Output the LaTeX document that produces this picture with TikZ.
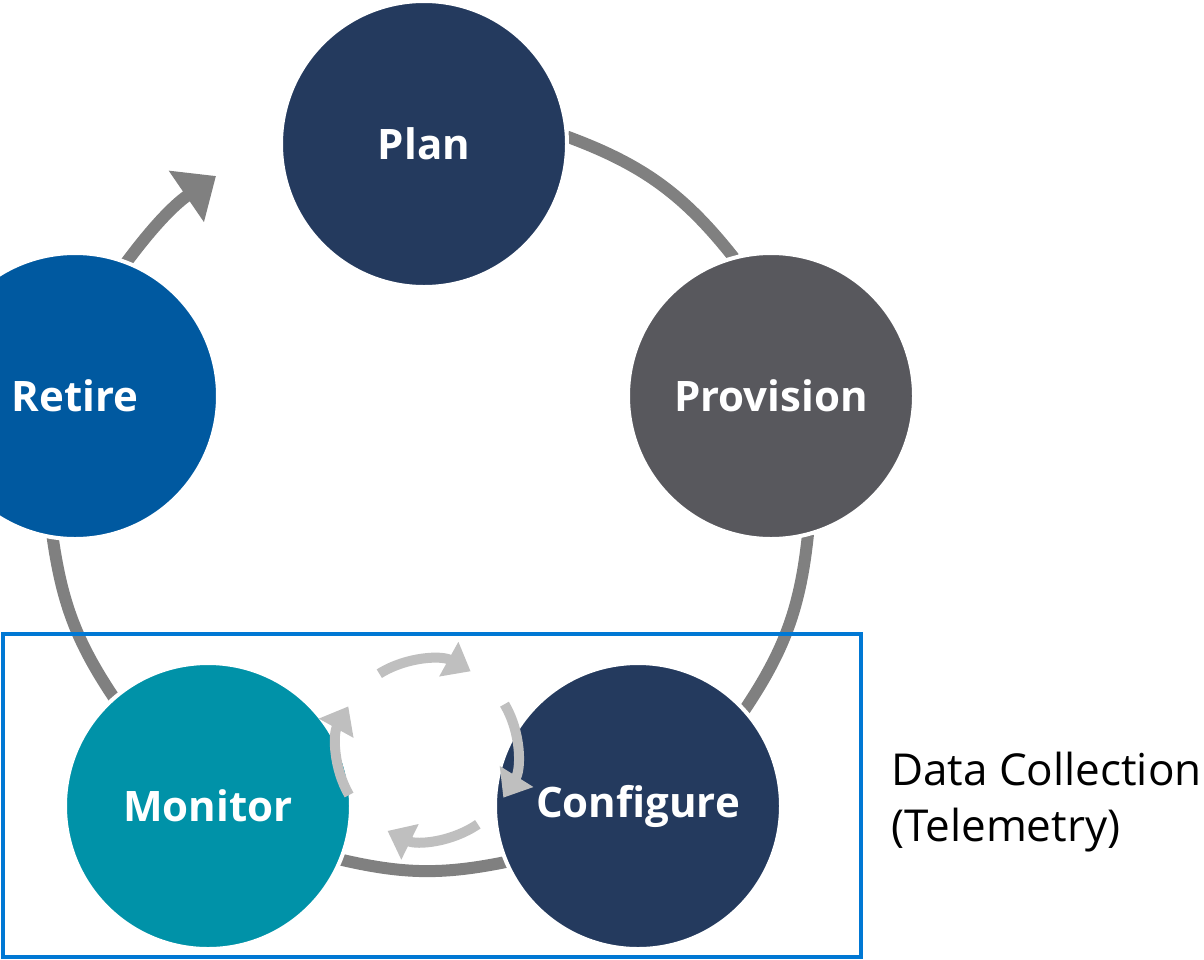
\documentclass[tikz,border=0pt]{standalone}
\usepackage{fontspec}
\setmainfont{Open Sans}
\usetikzlibrary{arrows.meta}
\pgfdeclarelayer{background}
\pgfsetlayers{background,main}

\definecolor{navy}{HTML}{243A5E}
\definecolor{slate}{HTML}{58585D}
\definecolor{royal}{HTML}{0059A0}
\definecolor{teal}{HTML}{0092A8}
\definecolor{linkgray}{HTML}{808080}
\definecolor{softgray}{HTML}{BFBFBF}
\definecolor{frameblue}{HTML}{0078D4}

\begin{document}
\begin{tikzpicture}[x=1pt,y=1pt,
  stage/.style={circle, minimum size=286pt, inner sep=0pt, outer sep=0pt,
    draw=white, line width=4pt, text=white,
    font=\fontsize{42}{50}\selectfont\bfseries},
  link/.style={draw=linkgray, line width=12pt},
  linkarrow/.style={link, -{Triangle[length=36pt,width=60pt]}},
  cyclearrow/.style={draw=softgray, line width=10pt, -{Triangle[length=25pt,width=38pt]}},
  frame/.style={draw=frameblue, line width=4.5pt},
  caption/.style={inner sep=0pt, align=left, font=\fontsize{44}{56}\selectfont}
]
\useasboundingbox (0,0) rectangle (1204,-959);
\clip (0,0) rectangle (1204,-959);

% lifecycle stages
\node[stage, fill=navy]  (plan)      at (424,-144) {Plan};
\node[stage, fill=slate] (provision) at (771,-396) {Provision};
\node[stage, fill=navy]  (configure) at (638,-806) {Configure};
\node[stage, fill=teal]  (monitor)   at (208,-806) {Monitor};
\node[stage, fill=royal] (retire)    at (75,-396)  {Retire};
\coordinate (replan) at (216,-176);

% outer cycle links, kept behind the stage circles
\begin{pgfonlayer}{background}
  \draw[link] (plan.3.6) to[bend left=15.7] (provision.105.7);
  \draw[link] (provision.-75.3) to[bend left=13.9] (configure.42.8);
  \draw[link] (configure.203.2) to[bend left=12.3] (monitor.-22.5);
  \draw[link] (monitor.131.6) to[bend left=12.8] (retire.261.3);
  \draw[linkarrow] (retire.69.5) to[bend left=9.5] (replan);
\end{pgfonlayer}

% inner feedback loop between configure and monitor
\coordinate (hub) at (427,-750);
\draw[cyclearrow] ([shift={(122:90)}]hub) arc[start angle=122, end angle=61, radius=90];
\draw[cyclearrow] ([shift={(30.6:90)}]hub) arc[start angle=30.6, end angle=-32, radius=90];
\draw[cyclearrow] ([shift={(-55.6:90)}]hub) arc[start angle=-55.6, end angle=-116, radius=90];
\draw[cyclearrow] ([shift={(210:90)}]hub) arc[start angle=210, end angle=151, radius=90];

% telemetry frame and its caption
\draw[frame] (3,-634) rectangle (861,-957);
\node[caption, anchor=base west] (telemetry) at (891,-841) {Data Collection\\(Telemetry)};
\end{tikzpicture}
\end{document}
